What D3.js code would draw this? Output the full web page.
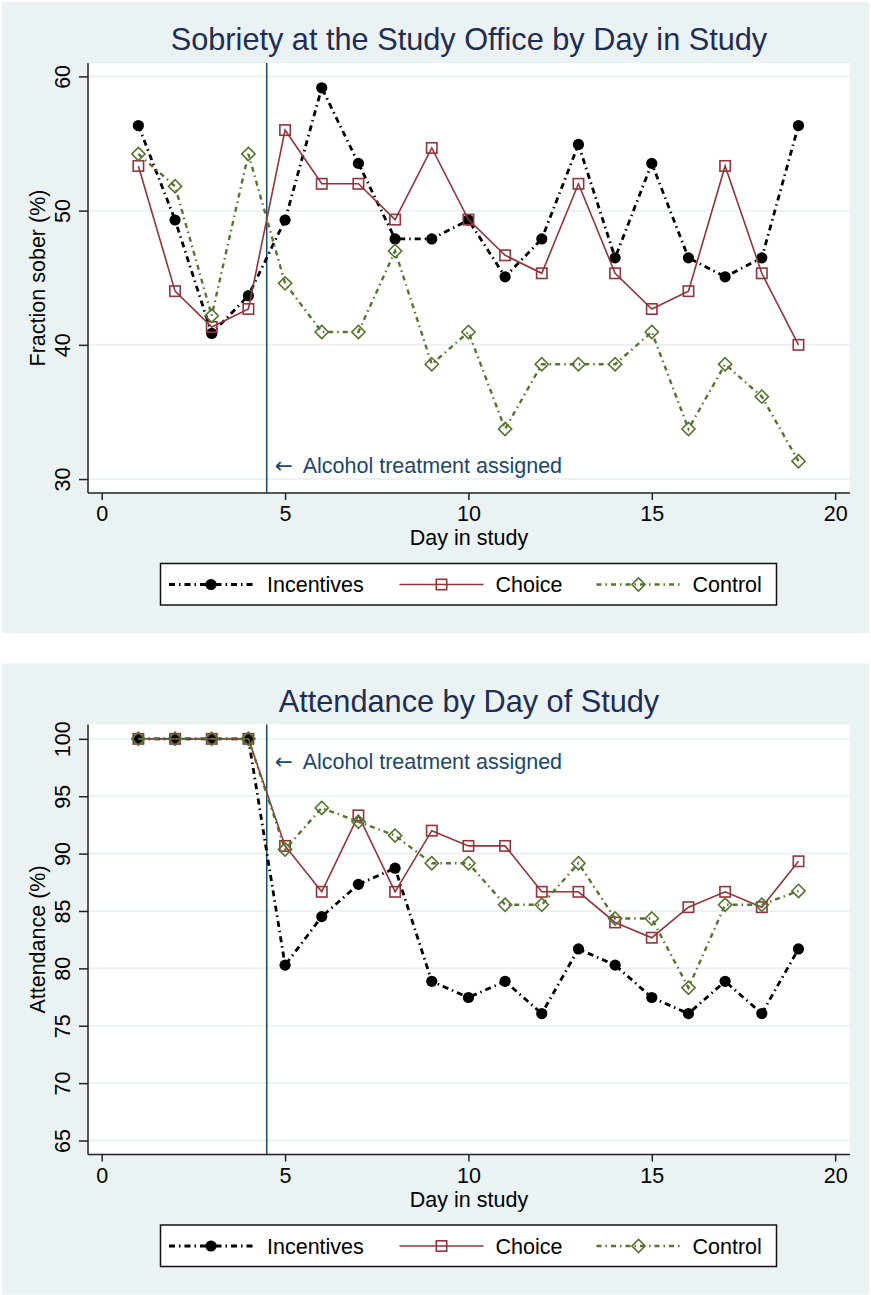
<!DOCTYPE html>
<html>
<head>
<meta charset="utf-8">
<script src="https://cdnjs.cloudflare.com/ajax/libs/d3/7.8.5/d3.min.js"></script>
<style>
  body { margin: 0; background: #fff; }
  text { font-family: "Liberation Sans", Arial, Helvetica, sans-serif; }
</style>
</head>
<body>
<div id="vis"></div>
<script>
// ---- data ----
var days = d3.range(1, 20);
var seriesNames = ['Incentives', 'Choice', 'Control'];

var soberIncentives = [56.34, 49.30, 40.85, 43.66, 49.30, 59.15, 53.52, 47.89, 47.89, 49.30,
                       45.07, 47.89, 54.93, 46.48, 53.52, 46.48, 45.07, 46.48, 56.34];
var soberChoice     = [53.33, 44.00, 41.33, 42.67, 56.00, 52.00, 52.00, 49.33, 54.67, 49.33,
                       46.67, 45.33, 52.00, 45.33, 42.67, 44.00, 53.33, 45.33, 40.00];
var soberControl    = [54.22, 51.81, 42.17, 54.22, 44.58, 40.96, 40.96, 46.99, 38.55, 40.96,
                       33.73, 38.55, 38.55, 38.55, 40.96, 33.73, 38.55, 36.14, 31.33];

var attendIncentives = [100, 100, 100, 100, 80.28, 84.51, 87.32, 88.73, 78.87, 77.46,
                        78.87, 76.06, 81.69, 80.28, 77.46, 76.06, 78.87, 76.06, 81.69];
var attendChoice     = [100, 100, 100, 100, 90.67, 86.67, 93.33, 86.67, 92.00, 90.67,
                        90.67, 86.67, 86.67, 84.00, 82.67, 85.33, 86.67, 85.33, 89.33];
var attendControl    = [100, 100, 100, 100, 90.36, 93.98, 92.77, 91.57, 89.16, 89.16,
                        85.54, 85.54, 89.16, 84.34, 84.34, 78.31, 85.54, 85.54, 86.75];

var xTicks = [0, 5, 10, 15, 20];
var soberTicks = [30, 40, 50, 60];
var attendTicks = [65, 70, 75, 80, 85, 90, 95, 100];
var treatmentDay = 4.5;

// ---- styling ----
var W = 871, H = 1295;
var bgCol = '#eaf2f3';
var navy = '#1a476f';
var titleCol = '#1e2d55';
var colors = { Incentives: '#000000', Choice: '#90353b', Control: '#55752f' };
var dashes = { Incentives: '6,4,1.5,4', Choice: null, Control: '5,4,1.5,4' };
var widths = { Incentives: 2.8, Choice: 1.6, Control: 2.4 };

var svg = d3.select('#vis').append('svg')
    .attr('width', W)
    .attr('height', H);

var plotL = 88, plotR = 850, plotT = 63, plotB = 493;

var xScale = d3.scaleLinear().domain([-0.374, 20.405]).range([plotL, plotR]);

function marker(g, name, x, y) {
    if (name == 'Incentives') {
        g.append('circle').attr('cx', x).attr('cy', y).attr('r', 5.6).attr('fill', '#000');
    } else if (name == 'Choice') {
        g.append('rect').attr('x', x - 5.2).attr('y', y - 5.2).attr('width', 10.4).attr('height', 10.4)
            .attr('fill', 'none').attr('stroke', colors.Choice).attr('stroke-width', 1.6);
    } else {
        var s = 6.6;
        g.append('path').attr('d', 'M' + x + ',' + (y - s) + 'L' + (x + s) + ',' + y + 'L' + x + ',' + (y + s) + 'L' + (x - s) + ',' + y + 'Z')
            .attr('fill', 'none').attr('stroke', colors.Control).attr('stroke-width', 1.6);
    }
}

function drawPanel(oy, title, yLabel, yDomain, yTicks, values, annY) {
    var g = svg.append('g').attr('transform', 'translate(0,' + oy + ')');

    g.append('rect').attr('x', 2).attr('y', 2).attr('width', 867).attr('height', 631).attr('fill', bgCol);
    g.append('rect').attr('x', plotL).attr('y', plotT).attr('width', plotR - plotL).attr('height', plotB - plotT).attr('fill', '#fff');

    var yScale = d3.scaleLinear().domain(yDomain).range([plotB, plotT]);

    // gridlines
    g.selectAll('.grid').data(yTicks).enter().append('line')
        .attr('x1', plotL).attr('x2', plotR)
        .attr('y1', function(d) { return yScale(d); })
        .attr('y2', function(d) { return yScale(d); })
        .attr('stroke', bgCol).attr('stroke-width', 2);

    // axes
    var yAxis = d3.axisLeft(yScale).tickValues(yTicks).tickSize(9).tickFormat(d3.format('d'));
    var ya = g.append('g').attr('transform', 'translate(' + plotL + ',0)').call(yAxis);
    ya.select('.domain').attr('d', 'M0,' + plotT + 'V' + plotB).attr('stroke', '#222').attr('stroke-width', 1.5);
    ya.selectAll('.tick line').attr('stroke', '#222').attr('stroke-width', 1.5);
    ya.selectAll('.tick text')
        .attr('x', null).attr('dy', null)
        .attr('transform', 'translate(-18,0) rotate(-90)')
        .attr('text-anchor', 'middle')
        .style('font-size', '21.5px').attr('fill', '#000');

    var xAxis = d3.axisBottom(xScale).tickValues(xTicks).tickSize(7).tickFormat(d3.format('d'));
    var xa = g.append('g').attr('transform', 'translate(0,' + plotB + ')').call(xAxis);
    xa.select('.domain').attr('d', 'M' + plotL + ',0H' + plotR).attr('stroke', '#222').attr('stroke-width', 1.5);
    xa.selectAll('.tick line').attr('stroke', '#222').attr('stroke-width', 1.5);
    xa.selectAll('.tick text')
        .attr('y', 28).attr('dy', null)
        .style('font-size', '21.5px').attr('fill', '#000');

    // titles
    g.append('text').attr('x', (plotL + plotR) / 2).attr('y', 50).attr('text-anchor', 'middle')
        .style('font-size', '30.7px').attr('fill', titleCol).text(title);
    g.append('text').attr('x', (plotL + plotR) / 2).attr('y', 545).attr('text-anchor', 'middle')
        .style('font-size', '21.5px').attr('fill', '#000').text('Day in study');
    g.append('text').attr('transform', 'translate(45,' + ((plotT + plotB) / 2) + ') rotate(-90)')
        .attr('text-anchor', 'middle').style('font-size', '21.5px').attr('fill', '#000').text(yLabel);

    // treatment line + note
    var tx = xScale(treatmentDay);
    g.append('line').attr('x1', tx).attr('x2', tx)
        .attr('y1', plotT).attr('y2', plotB).attr('stroke', navy).attr('stroke-width', 1.5);
    g.append('text').attr('x', tx + 8).attr('y', annY)
        .style('font-family', '"DejaVu Sans", sans-serif')
        .style('font-size', '21.5px').attr('fill', navy).text('\u2190');
    g.append('text').attr('x', tx + 36).attr('y', annY)
        .style('font-size', '21.5px').attr('fill', navy).text('Alcohol treatment assigned');

    // series
    var line = d3.line().x(function(d) { return xScale(d[0]); }).y(function(d) { return yScale(d[1]); });
    seriesNames.forEach(function(name, k) {
        var pts = days.map(function(d, i) { return [d, values[k][i]]; });
        var p = g.append('path').datum(pts).attr('d', line)
            .attr('fill', 'none').attr('stroke', colors[name]).attr('stroke-width', widths[name]);
        if (dashes[name]) p.attr('stroke-dasharray', dashes[name]);
        var mg = g.append('g');
        pts.forEach(function(pt) { marker(mg, name, xScale(pt[0]), yScale(pt[1])); });
    });

    // legend
    var lx = 160.5, ly = 563.5;
    g.append('rect').attr('x', lx).attr('y', ly).attr('width', 616).attr('height', 41.5)
        .attr('fill', '#fff').attr('stroke', '#111').attr('stroke-width', 1.5);
    var itemX = [8.5, 239, 436];
    var textGap = [98, 96, 96];
    seriesNames.forEach(function(name, k) {
        var x0 = lx + itemX[k], cy = ly + 21;
        var l = g.append('line').attr('x1', x0).attr('x2', x0 + 84).attr('y1', cy).attr('y2', cy)
            .attr('stroke', colors[name]).attr('stroke-width', widths[name]);
        if (dashes[name]) l.attr('stroke-dasharray', dashes[name]);
        marker(g, name, x0 + 42, cy);
        g.append('text').attr('x', x0 + textGap[k]).attr('y', cy + 7.8)
            .style('font-size', '21.5px').attr('fill', '#000').text(name);
    });
}

drawPanel(0, 'Sobriety at the Study Office by Day in Study', 'Fraction sober (%)',
          [28.96, 61.0], soberTicks, [soberIncentives, soberChoice, soberControl], 473);
drawPanel(661.5, 'Attendance by Day of Study', 'Attendance (%)',
          [63.78, 101.25], attendTicks, [attendIncentives, attendChoice, attendControl], 107.5);
</script>
</body>
</html>
